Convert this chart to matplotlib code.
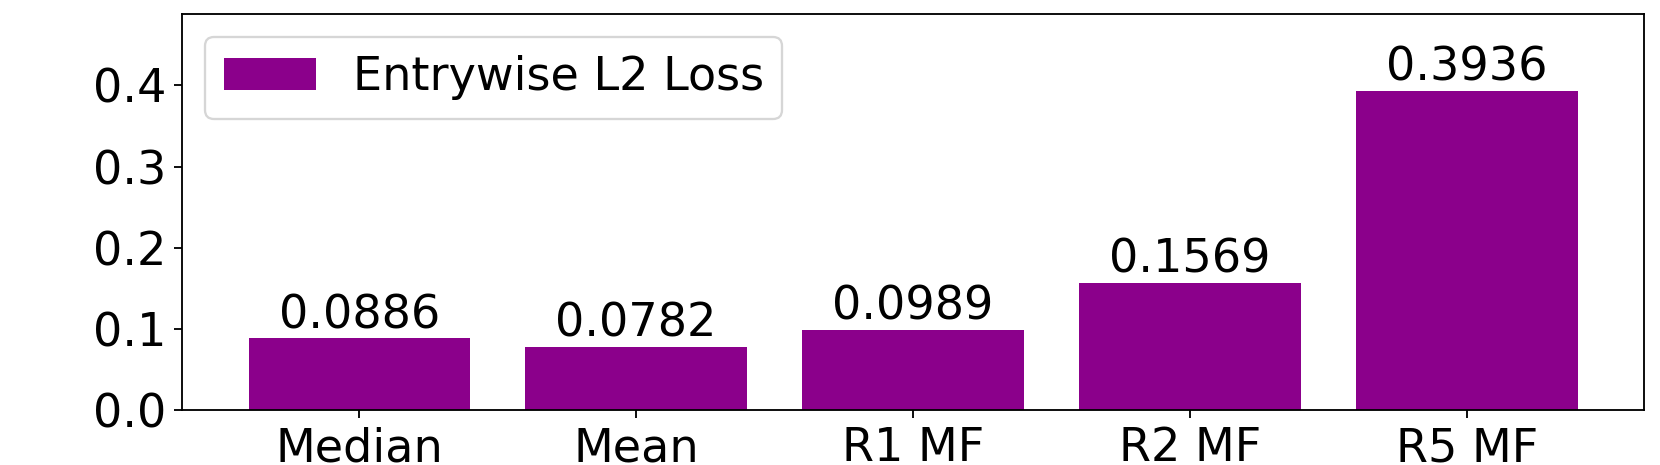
import numpy as np
import matplotlib
matplotlib.use('Agg')
import matplotlib.pyplot as plt

# values
methods = ['Median', 'Mean', 'R1 MF', 'R2 MF', 'R5 MF']
l2_loss = [0.0886, 0.0782, 0.0989, 0.1569, 0.3936]


def main():
    plt.rcParams['font.size'] = 20
    fig = plt.figure(figsize=(1661 / 166, 465 / 166), dpi=166)
    ax = fig.add_axes([0.1096, 0.1183, 0.8802, 0.8516])
    x = np.arange(len(methods))
    bars = ax.bar(x, l2_loss, width=0.8, color='darkmagenta', label='Entrywise L2 Loss')
    ax.bar_label(bars, labels=['%.4f' % v for v in l2_loss], fontsize=20)
    ax.set_xticks(x)
    ax.set_xticklabels(methods)
    ax.set_ylim(0, max(l2_loss) * 1.24)
    ax.set_yticks([0.0, 0.1, 0.2, 0.3, 0.4])
    ax.legend(loc='upper left', fontsize=20)
    fig.savefig('out.png', dpi=166)


if __name__ == "__main__":
    main()
